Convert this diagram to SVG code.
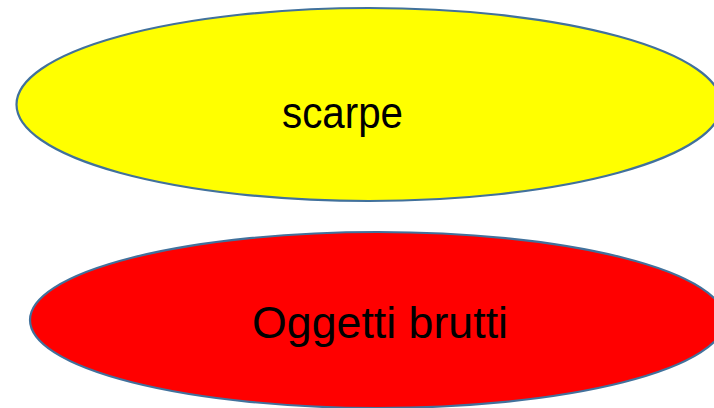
<svg xmlns="http://www.w3.org/2000/svg" width="714" height="408" viewBox="0 0 714 408">
<style>
.shape{stroke:#41719C;stroke-width:2.2}
.lbl{font-family:"Liberation Sans",Arial,sans-serif;font-size:45px;fill:#000;text-anchor:middle}
</style>
<rect width="714" height="408" fill="#fff"/>
<g id="node-scarpe">
<ellipse class="shape" cx="369" cy="104.5" rx="352.5" ry="96.5" fill="#FFFF00"/>
<text class="lbl" x="342.5" y="128" textLength="121" lengthAdjust="spacingAndGlyphs">scarpe</text>
</g>
<g id="node-oggetti">
<ellipse class="shape" cx="377.5" cy="320" rx="347.5" ry="88" fill="#FF0000"/>
<text class="lbl" x="380" y="338" textLength="256" lengthAdjust="spacingAndGlyphs">Oggetti brutti</text>
</g>
<g id="connectors"/>
</svg>
